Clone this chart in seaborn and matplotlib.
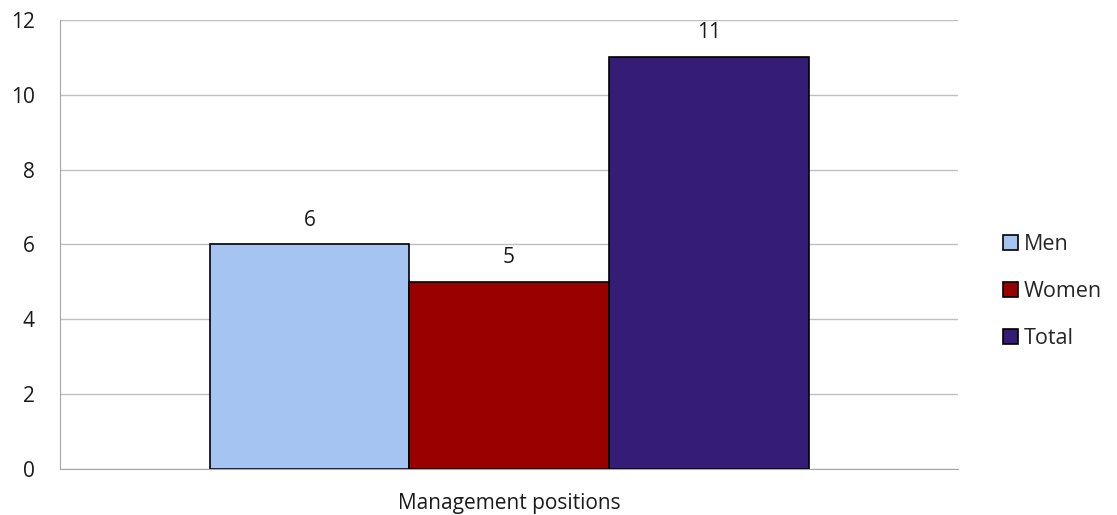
import matplotlib
matplotlib.use("Agg")
import matplotlib.pyplot as plt
import pandas as pd
import seaborn as sns

categories = ["Management positions"]
groups = ["Men", "Women", "Total"]
values = [6, 5, 11]
colors = ["#A6C4F2", "#990000", "#351C75"]

df = pd.DataFrame({"category": categories * len(groups), "group": groups, "value": values})

sns.set_style("white")
plt.rcParams["font.family"] = ["Open Sans", "DejaVu Sans"]

fig = plt.figure(figsize=(11.17, 5.15), dpi=100)
ax = fig.add_axes([0.0537, 0.0893, 0.804, 0.872])

sns.barplot(data=df, x="category", y="value", hue="group", hue_order=groups,
            palette=colors, width=0.667, edgecolor="black", linewidth=1.2,
            saturation=1, ax=ax, legend=True)

for c in ax.containers:
    ax.bar_label(c, padding=10, fontsize=15, color="#1a1a1a")

ax.set_ylim(0, 12)
ax.set_yticks(range(0, 13, 2))
ax.set_xlim(-0.5, 0.5)
ax.grid(axis="y", color="#BFBFBF", linewidth=1)
ax.set_axisbelow(True)
for s in ["top", "right"]:
    ax.spines[s].set_visible(False)
ax.spines["left"].set_color("#A6A6A6")
ax.spines["bottom"].set_color("#A6A6A6")
ax.tick_params(axis="both", length=0, colors="#1a1a1a")
ax.tick_params(axis="y", pad=18, labelsize=15)
ax.tick_params(axis="x", pad=17, labelsize=15)
ax.set_xlabel("")
ax.set_ylabel("")

ax.legend(loc="center left", bbox_to_anchor=(1.028, 0.395), frameon=False,
          fontsize=15.5, handlelength=0.7, handleheight=0.7, handletextpad=0.3,
          labelspacing=1.2)
for h in ax.get_legend().get_patches():
    h.set_edgecolor("black")

fig.savefig("out.png", dpi=100)
